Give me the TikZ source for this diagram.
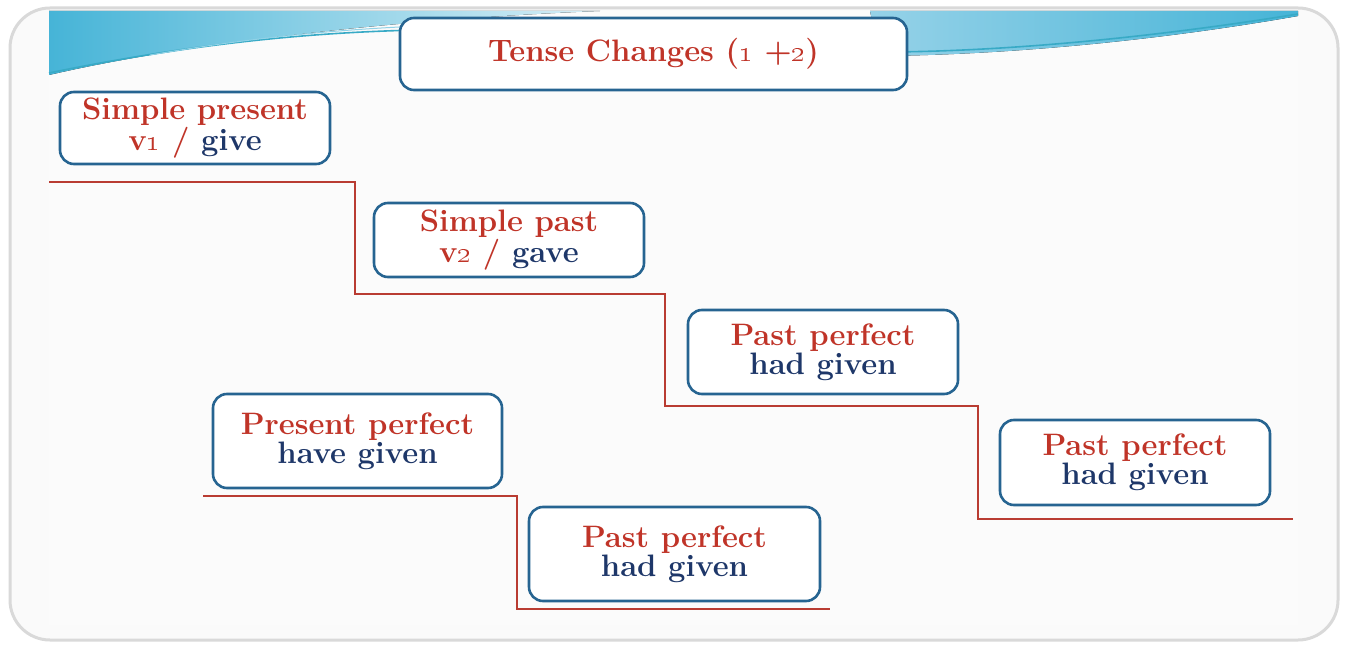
\documentclass[tikz,border=0pt]{standalone}
\definecolor{tred}{RGB}{192,52,40}
\definecolor{tblue}{RGB}{30,55,105}
\definecolor{boxblue}{RGB}{38,100,145}
\definecolor{stair}{RGB}{185,60,50}
\definecolor{swA}{RGB}{70,180,215}
\definecolor{swB}{RGB}{215,238,246}
\definecolor{swC}{RGB}{150,210,232}
\begin{document}
\begin{tikzpicture}[x=0.5pt,y=-0.5pt,
  tbox/.style={draw=boxblue, line width=1.3pt, rounded corners=7pt, fill=white, align=center,
    inner sep=0pt, font=\fontsize{15.5}{14.5}\selectfont\bfseries}]
\useasboundingbox (0,0) rectangle (1347,646);
% frame and slide
\fill[white] (0,0) rectangle (1347,646);
\draw[rounded corners=20pt, fill=gray!4, draw=gray!30, line width=1.5pt] (10,8) rectangle (1338,640);
\fill[gray!3] (49,11) rectangle (1298,625);
% swoosh
\fill[left color=swA, right color=swB] (49,11) -- (600,11) .. controls (420,18) and (200,40) .. (49,75) -- cycle;
\draw[swA!80!teal, line width=0.8pt] (49,73) .. controls (200,42) and (320,32) .. (420,30);
\draw[swA!60, line width=0.5pt] (150,55) .. controls (250,38) and (330,30) .. (420,26);
\fill[left color=swC, right color=swA] (870,11) -- (1298,11) -- (1298,16) .. controls (1150,42) and (1000,55) .. (880,56) -- cycle;
\draw[swA!80!teal, line width=0.8pt] (880,52) .. controls (1000,52) and (1150,38) .. (1298,14);
% boxes
\node[tbox, minimum width=253.5pt, minimum height=36pt] (tc0) at (653.5,54)
  {\color{tred}Tense Changes (\oldstylenums{1} +\oldstylenums{2})};
\node[tbox, minimum width=135pt, minimum height=36pt] (tc1) at (195,128)
  {\color{tred}Simple present\\\color{tred}v\oldstylenums{1} / \color{tblue}give};
\node[tbox, minimum width=135pt, minimum height=37pt] (tc2) at (509,240)
  {\color{tred}Simple past\\\color{tred}v\oldstylenums{2} / \color{tblue}gave};
\node[tbox, minimum width=135pt, minimum height=42pt] (tc3) at (823,352)
  {\color{tred}Past perfect\\\color{tblue}had given};
\node[tbox, minimum width=135pt, minimum height=42.5pt] (tc4) at (1135,462.5)
  {\color{tred}Past perfect\\\color{tblue}had given};
\node[tbox, minimum width=144.5pt, minimum height=47pt] (tc5) at (357.5,441)
  {\color{tred}Present perfect\\\color{tblue}have given};
\node[tbox, minimum width=145.5pt, minimum height=47pt] (tc6) at (674.5,554)
  {\color{tred}Past perfect\\\color{tblue}had given};
% stairs
\coordinate (s0) at (49,182);
\coordinate (s1) at (355,182);
\coordinate (s2) at (355,294);
\coordinate (s3) at (665,294);
\coordinate (s4) at (665,406);
\coordinate (s5) at (978,406);
\coordinate (s6) at (978,519);
\coordinate (s7) at (1293,519);
\draw[stair, line width=0.9pt] (s0) -- (s1) -- (s2) -- (s3) -- (s4) -- (s5) -- (s6) -- (s7);
\coordinate (r0) at (203,496);
\coordinate (r1) at (517,496);
\coordinate (r2) at (517,609);
\coordinate (r3) at (830,609);
\draw[stair, line width=0.9pt] (r0) -- (r1) -- (r2) -- (r3);
\end{tikzpicture}
\end{document}
